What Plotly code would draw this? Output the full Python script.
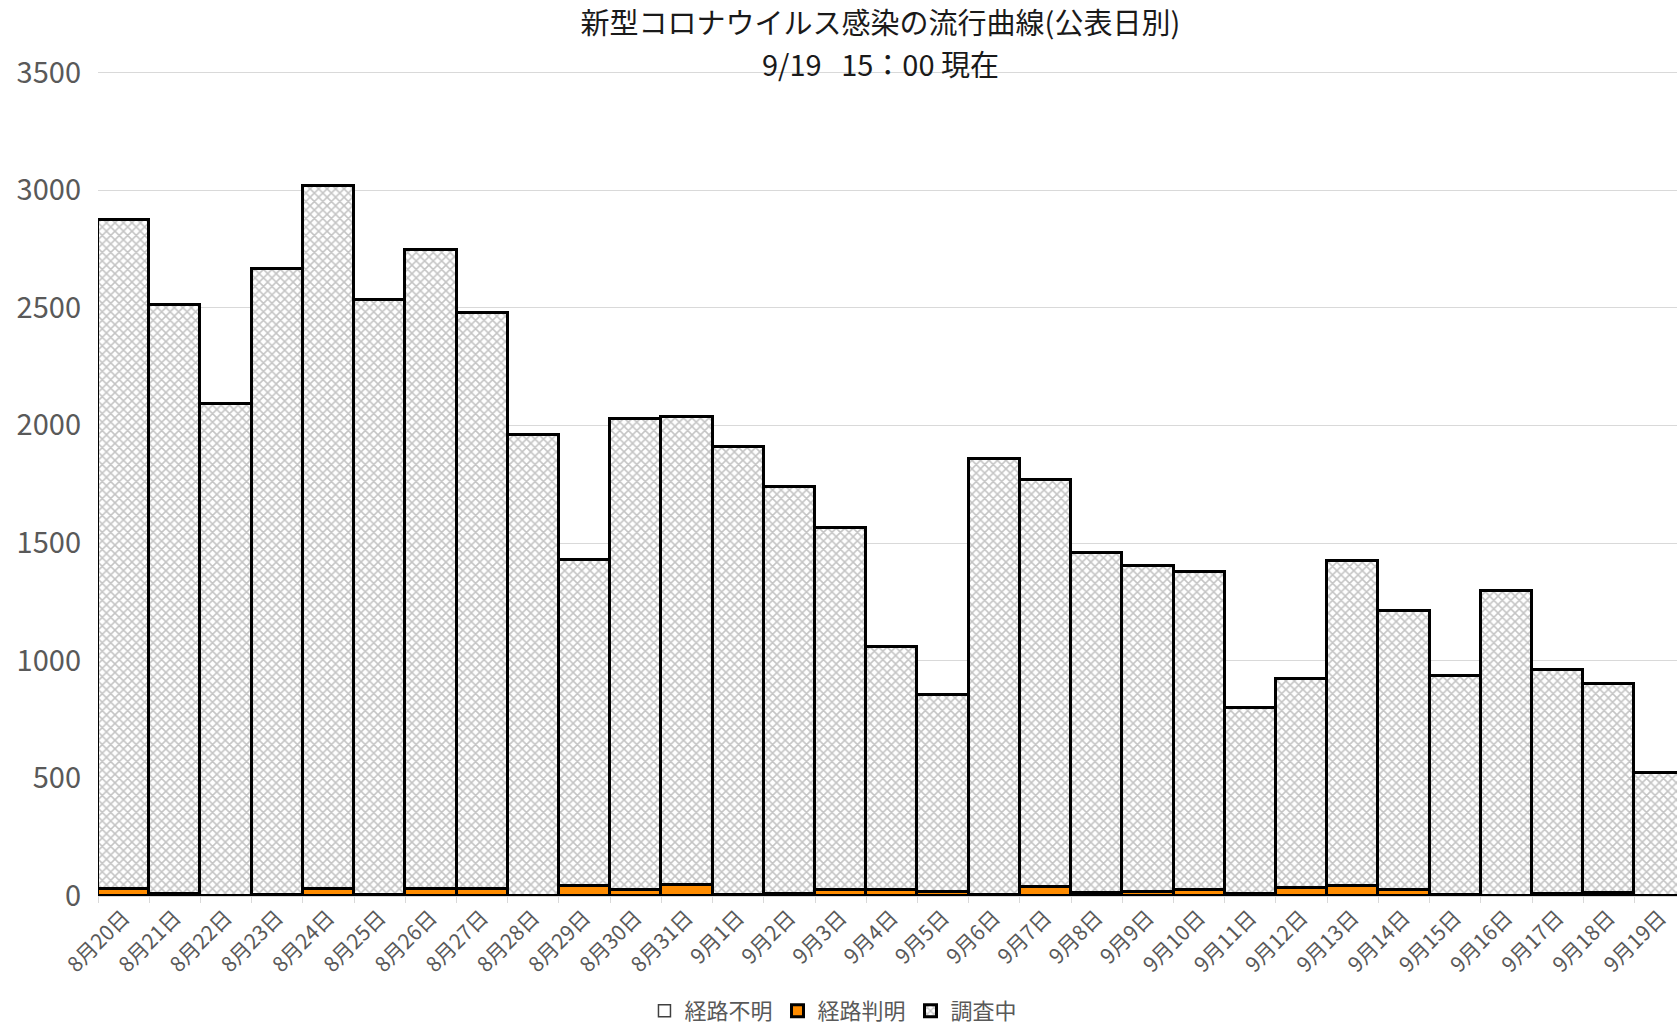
import plotly.graph_objects as go

categories = ["8月20日", "8月21日", "8月22日", "8月23日", "8月24日", "8月25日", "8月26日",
              "8月27日", "8月28日", "8月29日", "8月30日", "8月31日", "9月1日", "9月2日",
              "9月3日", "9月4日", "9月5日", "9月6日", "9月7日", "9月8日", "9月9日",
              "9月10日", "9月11日", "9月12日", "9月13日", "9月14日", "9月15日", "9月16日",
              "9月17日", "9月18日", "9月19日"]

unknown_route = [0] * 31
known_route = [30, 10, 0, 3, 28, 3, 28, 28, 0, 41, 24, 48, 5, 9, 24, 24, 18, 3, 37,
               13, 18, 27, 10, 33, 41, 24, 3, 0, 8, 12, 0]
investigating = [2843, 2503, 2091, 2660, 2990, 2529, 2717, 2449, 1959, 1386, 2003, 1988,
                 1904, 1727, 1540, 1035, 837, 1856, 1731, 1446, 1386, 1350, 790, 890,
                 1382, 1185, 933, 1295, 951, 888, 523]

title_line1 = "新型コロナウイルス感染の流行曲線(公表日別)"
title_line2 = "9/19\u00a0\u00a0\u00a015：00 現在"

FONT = "Noto Sans CJK JP"
GREY = "#595959"

fig = go.Figure()
fig.add_trace(go.Bar(
    x=categories, y=unknown_route, name="経路不明",
    marker=dict(color="white", line=dict(color="#404040", width=1.5)),
))
fig.add_trace(go.Bar(
    x=categories, y=known_route, name="経路判明",
    marker=dict(color="#ff8c00", line=dict(color="black", width=3)),
))
fig.add_trace(go.Bar(
    x=categories, y=investigating, name="調査中",
    marker=dict(
        color="white",
        line=dict(color="black", width=3),
        pattern=dict(shape="x", fgcolor="#8a8a8a", bgcolor="white", size=6, solidity=0.45),
    ),
))

fig.update_layout(
    width=1677, height=1026,
    barmode="stack", bargap=0,
    plot_bgcolor="white", paper_bgcolor="white",
    margin=dict(l=98, r=0, t=70, b=130),
    font=dict(family=FONT, color=GREY),
    title=dict(
        text=title_line1,
        font=dict(family=FONT, size=29, color="#1a1a1a"),
        x=0.525, xref="container", xanchor="center",
        y=1 - 24 / 1026, yref="container", yanchor="middle",
    ),
    legend=dict(
        orientation="h", x=0.497, xref="container", xanchor="center",
        y=1 - 1011 / 1026, yref="container", yanchor="middle",
        font=dict(family=FONT, size=22, color=GREY),
        traceorder="normal", itemwidth=30,
    ),
    xaxis=dict(
        range=[-0.5, 30.33], tickangle=-45, tickfont=dict(size=21, color=GREY),
        ticks="outside", tickson="boundaries", ticklen=6, tickcolor="#d9d9d9",
        showline=True, linecolor="#d9d9d9", linewidth=1, showgrid=False,
    ),
    yaxis=dict(
        range=[0, 3510], dtick=500, tickfont=dict(size=29, color=GREY),
        showgrid=True, gridcolor="#d9d9d9", gridwidth=1, zeroline=False,
        ticks="", ticklabelstandoff=16,
    ),
)

fig.add_annotation(
    text=title_line2, showarrow=False,
    xref="paper", yref="paper",
    x=(880 - 98) / 1579, y=(896 - 63) / 826,
    xanchor="center", yanchor="middle",
    font=dict(family=FONT, size=29, color="#1a1a1a"),
)

fig.write_html(
    "out.html",
    config={"displayModeBar": False},
    post_script="document.body.style.margin='0';document.body.style.overflow='hidden';",
)
